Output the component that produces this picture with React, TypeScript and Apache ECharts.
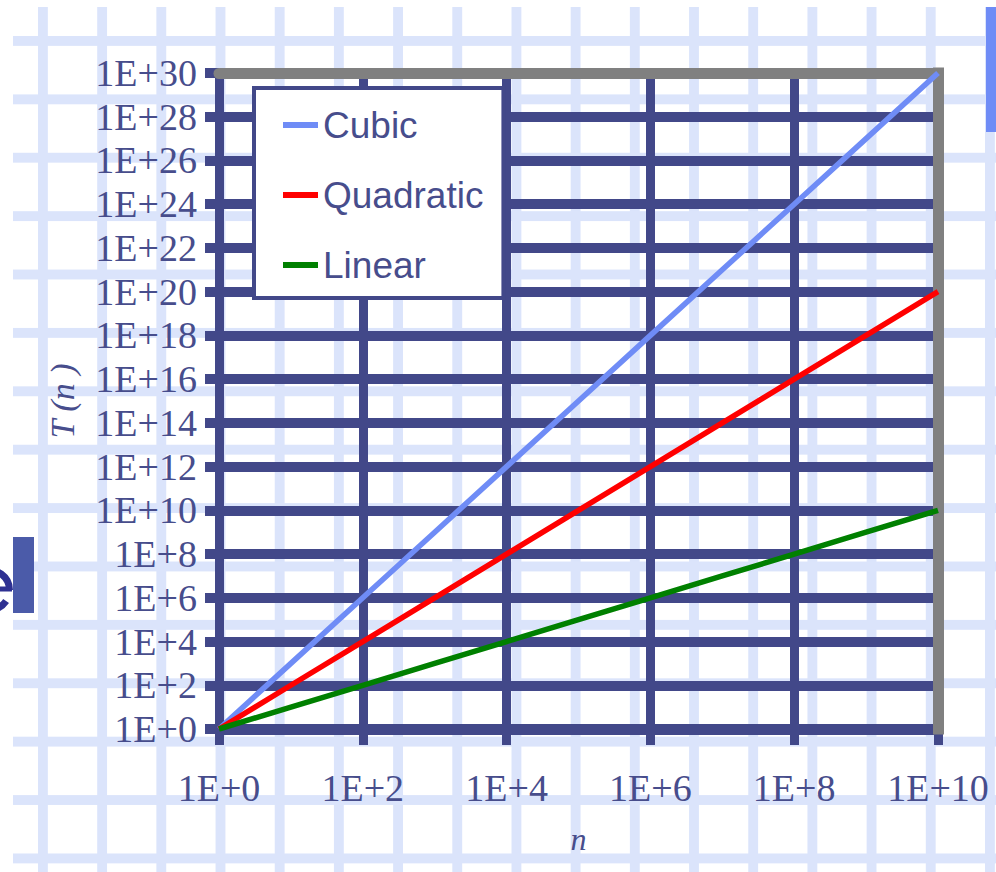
import React, { useEffect, useRef } from "react";
import * as echarts from "echarts";

// ---- data (n on x, T(n) on y, both log10) ----
const nValues = [1, 1e1, 1e2, 1e3, 1e4, 1e5, 1e6, 1e7, 1e8, 1e9, 1e10];
const cubicValues = [1, 1e3, 1e6, 1e9, 1e12, 1e15, 1e18, 1e21, 1e24, 1e27, 1e30];
const quadraticValues = [1, 1e2, 1e4, 1e6, 1e8, 1e10, 1e12, 1e14, 1e16, 1e18, 1e20];
const linearValues = [1, 1e1, 1e2, 1e3, 1e4, 1e5, 1e6, 1e7, 1e8, 1e9, 1e10];

const seriesNames = ["Cubic", "Quadratic", "Linear"];
const seriesColors = ["#6f8cf6", "#ff0000", "#008000"];

const xTickLabels = ["1E+0", "1E+2", "1E+4", "1E+6", "1E+8", "1E+10"];
const yTickLabels = [
  "1E+0", "1E+2", "1E+4", "1E+6", "1E+8", "1E+10", "1E+12", "1E+14",
  "1E+16", "1E+18", "1E+20", "1E+22", "1E+24", "1E+26", "1E+28", "1E+30",
];

const NAVY = "#424889";
const TEXT = "#474d8c";
const GRAY = "#808080";

function pairs(values: number[]) {
  return nValues.map((n, i) => [Math.log10(n), Math.log10(values[i])]);
}

export default function App() {
  const ref = useRef<HTMLDivElement | null>(null);

  useEffect(() => {
    document.body.style.margin = "0";
    if (!ref.current) return;
    const chart = echarts.init(ref.current, undefined, { renderer: "svg" });
    const allValues = [cubicValues, quadraticValues, linearValues];
    chart.setOption({
      animation: false,
      backgroundColor: "transparent",
      grid: { left: 219, top: 73, width: 719, height: 656, containLabel: false },
      legend: {
        orient: "vertical",
        left: 254,
        top: 88,
        data: seriesNames,
        icon: "rect",
        itemWidth: 35,
        itemHeight: 6,
        itemGap: 30,
        padding: [17, 20, 13, 29],
        backgroundColor: "#ffffff",
        borderColor: NAVY,
        borderWidth: 4,
        textStyle: {
          fontFamily: "Liberation Sans",
          fontSize: 37,
          color: TEXT,
          lineHeight: 40,
        },
      },
      xAxis: [
        {
          type: "value",
          min: 0,
          max: 10,
          interval: 2,
          z: 0,
          axisLine: { show: true, onZero: false, lineStyle: { color: NAVY, width: 11 } },
          axisTick: { show: true, length: 16, lineStyle: { color: NAVY, width: 9 } },
          splitLine: { show: true, lineStyle: { color: NAVY, width: 9 } },
          axisLabel: {
            margin: 40,
            fontFamily: "Liberation Serif",
            fontSize: 38,
            color: TEXT,
            formatter: (v: number) => xTickLabels[Math.round(v / 2)],
          },
          name: "n",
          nameLocation: "middle",
          nameGap: 94,
          nameTextStyle: {
            fontFamily: "Liberation Serif",
            fontStyle: "italic",
            fontSize: 32,
            color: TEXT,
          },
        },
        {
          type: "value",
          position: "top",
          min: 0,
          max: 10,
          z: 1,
          axisLine: { show: true, onZero: false, lineStyle: { color: GRAY, width: 11 } },
          axisTick: { show: false },
          axisLabel: { show: false },
          splitLine: { show: false },
        },
      ],
      yAxis: [
        {
          type: "value",
          min: 0,
          max: 30,
          interval: 2,
          z: 0,
          axisLine: { show: true, onZero: false, lineStyle: { color: NAVY, width: 8 } },
          axisTick: { show: true, length: 14, lineStyle: { color: NAVY, width: 10 } },
          splitLine: { show: true, lineStyle: { color: NAVY, width: 10 } },
          axisLabel: {
            margin: 22,
            fontFamily: "Liberation Serif",
            fontSize: 38,
            color: TEXT,
            formatter: (v: number) => yTickLabels[Math.round(v / 2)],
          },
          name: "T (n )",
          nameLocation: "middle",
          nameRotate: 90,
          nameGap: 140,
          nameTextStyle: {
            fontFamily: "Liberation Serif",
            fontStyle: "italic",
            fontSize: 34,
            color: TEXT,
          },
        },
        {
          type: "value",
          position: "right",
          min: 0,
          max: 30,
          z: 1,
          axisLine: { show: true, onZero: false, lineStyle: { color: GRAY, width: 11, cap: "square" } },
          axisTick: { show: false },
          axisLabel: { show: false },
          splitLine: { show: false },
        },
      ],
      series: seriesNames.map((name, i) => ({
        name,
        type: "line",
        xAxisIndex: 0,
        yAxisIndex: 0,
        z: 2,
        symbol: "none",
        silent: true,
        lineStyle: { color: seriesColors[i], width: 5.5 },
        itemStyle: { color: seriesColors[i] },
        data: pairs(allValues[i]),
      })),
      graphic: [
        {
          type: "arc",
          shape: { cx: -10, cy: 590, r: 19.5, startAngle: 0.6, endAngle: Math.PI * 2, clockwise: true },
          style: { stroke: "#2e3192", lineWidth: 7, fill: "none" },
        },
        {
          type: "line",
          shape: { x1: -30, y1: 589, x2: 12, y2: 589 },
          style: { stroke: "#2e3192", lineWidth: 5 },
        },
        {
          type: "rect",
          shape: { x: 13, y: 537, width: 21, height: 76 },
          style: { fill: "#4b5ba9" },
        },
        {
          type: "rect",
          shape: { x: 986, y: 7, width: 10, height: 125 },
          style: { fill: "#6f8cf6" },
        },
      ],
    });
    return () => chart.dispose();
  }, []);

  return (
    <div
      style={{
        position: "absolute",
        left: 0,
        top: 0,
        width: 996,
        height: 872,
        background: "#ffffff",
        overflow: "hidden",
      }}
    >
      <div
        style={{
          position: "absolute",
          left: 13,
          top: 7,
          right: 0,
          bottom: 0,
          backgroundImage:
            "linear-gradient(to right, #dbe4fb 10px, transparent 10px), linear-gradient(to bottom, #dbe4fb 10px, transparent 10px)",
          backgroundSize: "59.2px 58.4px",
          backgroundPosition: "25px 29px",
        }}
      />
      <div ref={ref} style={{ position: "absolute", left: 0, top: 0, width: 996, height: 872 }} />
    </div>
  );
}
